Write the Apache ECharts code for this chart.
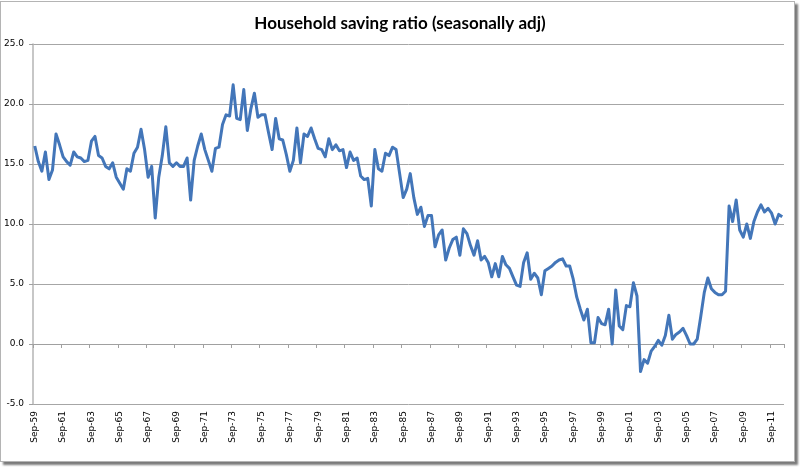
<!DOCTYPE html>
<html>
<head>
<meta charset="utf-8">
<script src="https://cdn.jsdelivr.net/npm/echarts@6/dist/echarts.min.js"></script>
<style>
html,body{margin:0;padding:0;background:#fff;overflow:hidden;}
#c{position:absolute;left:0;top:0;width:800px;height:467px;}
#frame{position:absolute;left:0;top:1px;width:793px;height:459px;border:1px solid #b4b4b4;box-shadow:3px 3px 2px #7a7a7a;pointer-events:none;}
</style>
</head>
<body>
<div id="c"></div>
<div id="frame"></div>
<script>
// Quarterly household saving ratio, Sep-59 .. Jun-12
const savingRatio = [
  16.5, 15.2, 14.4, 16.0, 13.7, 14.5, 17.5, 16.6, 15.6, 15.2,
  14.9, 16.0, 15.6, 15.5, 15.2, 15.3, 16.9, 17.3, 15.7, 15.5,
  14.8, 14.6, 15.1, 13.9, 13.4, 12.9, 14.6, 14.4, 15.9, 16.4,
  17.9, 16.2, 13.9, 14.8, 10.5, 13.9, 15.7, 18.1, 15.1, 14.8,
  15.1, 14.8, 14.8, 15.5, 12.0, 15.3, 16.5, 17.5, 16.2, 15.3,
  14.4, 16.3, 16.4, 18.3, 19.1, 19.0, 21.6, 18.8, 18.7, 21.2,
  17.8, 19.6, 20.9, 18.9, 19.1, 19.1, 17.6, 16.2, 18.8, 17.1,
  17.0, 15.8, 14.4, 15.3, 18.0, 15.1, 17.5, 17.3, 18.0, 17.1,
  16.3, 16.2, 15.6, 17.1, 16.2, 16.6, 16.1, 16.2, 14.7, 16.0,
  15.3, 15.5, 14.0, 13.7, 13.8, 11.5, 16.2, 14.6, 14.4, 15.9,
  15.7, 16.4, 16.2, 14.2, 12.2, 12.9, 14.2, 12.2, 10.8, 11.4,
  9.8, 10.7, 10.7, 8.1, 9.1, 9.5, 7.0, 8.0, 8.7, 8.9,
  7.4, 9.6, 9.2, 8.2, 7.4, 8.6, 7.0, 7.3, 6.8, 5.6,
  6.7, 5.6, 7.3, 6.6, 6.3, 5.6, 4.9, 4.8, 6.8, 7.6,
  5.4, 5.9, 5.5, 4.1, 6.1, 6.3, 6.5, 6.8, 7.0, 7.1,
  6.5, 6.5, 5.4, 3.9, 2.9, 2.0, 2.9, 0.1, 0.1, 2.2,
  1.7, 1.6, 2.9, 0.0, 4.5, 1.5, 1.2, 3.2, 3.1, 5.1,
  4.0, -2.3, -1.3, -1.6, -0.6, -0.2, 0.3, -0.1, 0.7, 2.4,
  0.4, 0.8, 1.0, 1.3, 0.7, 0.0, 0.0, 0.4, 2.3, 4.3,
  5.5, 4.6, 4.3, 4.1, 4.1, 4.4, 11.5, 10.2, 12.0, 9.5,
  8.9, 10.0, 8.8, 10.2, 11.0, 11.6, 11.0, 11.3, 10.9, 10.0,
  10.8, 10.6
];
const quarterMonths = ['Sep', 'Dec', 'Mar', 'Jun'];
const firstYear = 1959;
const categories = savingRatio.map((_, i) => {
  const m = quarterMonths[i % 4];
  const y = (i % 4 < 2) ? firstYear + Math.floor(i / 4) : firstYear + Math.floor(i / 4) + 1;
  return m + '-' + String(y % 100).padStart(2, '0');
});
const yTicks = { min: -5, max: 25, step: 5 };
const titleText = 'Household saving ratio (seasonally adj)';

const chart = echarts.init(document.getElementById('c'), null, { renderer: 'canvas' });
chart.setOption({
  animation: false,
  backgroundColor: '#ffffff',
  title: {
    text: titleText,
    left: 'center',
    top: 10,
    textStyle: { fontFamily: 'Lato', fontWeight: 'bold', fontSize: 17, color: '#000' }
  },
  grid: { left: 33, right: 16, top: 44, bottom: 63, containLabel: false },
  xAxis: [
    {
      type: 'category',
      data: categories,
      boundaryGap: true,
      position: 'bottom',
      axisLine: { show: false, onZero: false },
      axisTick: { show: false },
      axisLabel: {
        interval: 7, rotate: 90, margin: 7,
        fontFamily: 'DejaVu Sans', fontSize: 9, color: '#000'
      },
      splitLine: { show: false }
    },
    {
      type: 'category',
      data: categories,
      boundaryGap: true,
      position: 'bottom',
      axisLine: { show: true, onZero: true, lineStyle: { color: '#a0a0a0', width: 1 } },
      axisTick: { show: true, interval: 7, length: 4, lineStyle: { color: '#a0a0a0' } },
      axisLabel: { show: false },
      splitLine: { show: false }
    }
  ],
  yAxis: {
    type: 'value',
    min: yTicks.min, max: yTicks.max, interval: yTicks.step,
    axisLine: { show: true, lineStyle: { color: '#b4b4b4', width: 1.5 } },
    axisTick: { show: true, length: 4, lineStyle: { color: '#a0a0a0' } },
    axisLabel: {
      margin: 9, fontFamily: 'DejaVu Sans', fontSize: 9, color: '#000',
      formatter: v => v.toFixed(1)
    },
    splitLine: { lineStyle: { color: '#a6a6a6', width: 1 } }
  },
  series: [{
    type: 'line',
    data: savingRatio,
    xAxisIndex: 0,
    symbol: 'none',
    lineStyle: { color: '#4376b9', width: 3, join: 'round' }
  }]
});
</script>
</body>
</html>
